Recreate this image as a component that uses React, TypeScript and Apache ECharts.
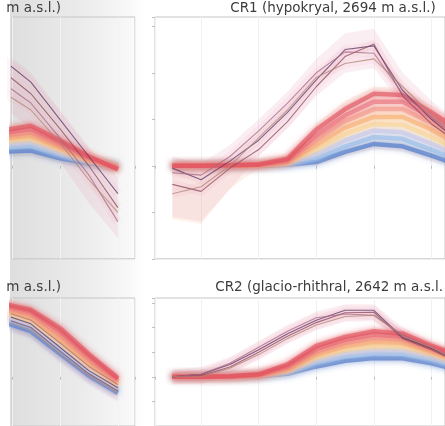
import React, { useEffect, useRef } from "react";
import * as echarts from "echarts";

// ---------- data ----------
const monthsFull = [1, 2, 3, 4, 5, 6, 7, 8, 9, 10, 11];
const monthsLate = [8, 9, 10, 11, 12];

const panelTitles = [
  "m a.s.l.)",
  "CR1 (hypokryal, 2694 m a.s.l.)",
  "m a.s.l.)",
  "CR2 (glacio-rhithral, 2642 m a.s.l.",
];

// scenario colours, blue (low) -> red (high)
const scenarioColors = ["#3d6bc5", "#8fbbe9", "#c0c4ee", "#f6d596", "#f6ae6c", "#f29483", "#ea6f7c", "#df4d5c"];
const darkColors = ["#5a3666", "#8a4a5e", "#a56a84", "#b08676"];

// top-left panel (months 8-12)
const tlScenarios = [
  [0.3, 0.33, 0.16, 0.05, 0.0],
  [0.38, 0.42, 0.22, 0.07, 0.0],
  [0.45, 0.5, 0.28, 0.09, -0.01],
  [0.52, 0.58, 0.34, 0.11, -0.02],
  [0.58, 0.65, 0.4, 0.13, -0.03],
  [0.64, 0.72, 0.45, 0.16, -0.05],
  [0.7, 0.79, 0.5, 0.18, -0.06],
  [0.76, 0.86, 0.55, 0.2, -0.08],
];
const tlDark = [
  [2.3, 1.8, 1.0, 0.2, -0.6],
  [2.05, 1.55, 0.8, 0.0, -0.9],
  [1.8, 1.35, 0.6, -0.2, -1.2],
  [1.6, 1.2, 0.5, -0.3, -1.0],
];
const tlDarkLow = [1.3, 0.8, 0.1, -0.8, -1.55];
const tlDarkHigh = [2.5, 2.0, 1.2, 0.4, -0.25];
const tlScenLow = [0.2, 0.22, 0.05, -0.05, -0.15];
const tlScenHigh = [0.9, 0.95, 0.65, 0.3, 0.05];

// top-right panel CR1 (months 1-11)
const trScenarios = [
  [0, 0, 0, 0, 0.02, 0.08, 0.3, 0.47, 0.42, 0.22, 0.0],
  [0, 0, 0, 0, 0.03, 0.15, 0.42, 0.62, 0.58, 0.35, 0.1],
  [0, 0, 0, 0.01, 0.04, 0.25, 0.55, 0.76, 0.72, 0.48, 0.2],
  [0, 0, 0, 0.01, 0.06, 0.35, 0.68, 0.9, 0.88, 0.62, 0.3],
  [0, 0, 0, 0.01, 0.08, 0.45, 0.82, 1.05, 1.05, 0.78, 0.42],
  [0, 0, 0.01, 0.02, 0.1, 0.56, 0.96, 1.22, 1.22, 0.92, 0.55],
  [0, 0, 0.01, 0.02, 0.12, 0.66, 1.08, 1.38, 1.38, 1.04, 0.65],
  [0, 0, 0.01, 0.03, 0.15, 0.78, 1.22, 1.55, 1.52, 1.15, 0.75],
];
const trDark = [
  [-0.05, -0.3, 0.1, 0.55, 1.15, 1.85, 2.5, 2.58, 1.62, 1.0, 0.5],
  [-0.4, -0.55, -0.05, 0.35, 0.95, 1.7, 2.35, 2.62, 1.5, 0.9, 0.45],
  [-0.15, -0.2, 0.2, 0.75, 1.35, 2.0, 2.45, 2.42, 1.55, 1.05, 0.55],
  [-0.6, -0.45, 0.0, 0.6, 1.2, 1.9, 2.2, 2.3, 1.7, 1.1, 0.6],
];
const trDarkLow = [-1.1, -1.2, -0.5, 0.2, 0.8, 1.5, 2.0, 2.1, 1.3, 0.7, 0.3];
const trDarkHigh = [0.2, 0.05, 0.45, 1.0, 1.6, 2.3, 2.85, 2.95, 2.0, 1.4, 0.9];
const trScenLow = [-1.15, -1.25, -0.5, -0.05, -0.05, 0.0, 0.2, 0.35, 0.3, 0.1, -0.1];
const trScenHigh = [0.05, 0.05, 0.05, 0.08, 0.25, 0.9, 1.4, 1.7, 1.68, 1.3, 0.9];

// bottom-left panel (months 8-12)
const blScenarios = [
  [2.25, 1.85, 0.95, 0.05, -0.65],
  [2.38, 1.98, 1.08, 0.16, -0.56],
  [2.5, 2.12, 1.22, 0.28, -0.46],
  [2.62, 2.27, 1.38, 0.42, -0.36],
  [2.75, 2.42, 1.55, 0.56, -0.26],
  [2.85, 2.55, 1.72, 0.7, -0.18],
  [2.92, 2.65, 1.86, 0.82, -0.1],
  [2.98, 2.72, 1.98, 0.92, -0.05],
];
const blDark = [
  [2.55, 2.15, 1.2, 0.25, -0.45],
  [2.4, 2.0, 1.05, 0.12, -0.58],
  [2.68, 2.3, 1.38, 0.42, -0.32],
  [2.3, 1.9, 0.95, 0.05, -0.65],
];
const blDarkLow = [1.95, 1.55, 0.6, -0.3, -1.0];
const blDarkHigh = [2.85, 2.5, 1.6, 0.6, -0.1];
const blScenLow = [2.1, 1.7, 0.8, -0.1, -0.8];
const blScenHigh = [3.12, 2.9, 2.14, 1.08, 0.1];

// bottom-right panel CR2 (months 1-11)
const brScenarios = [
  [0, 0, 0, 0.02, 0.12, 0.42, 0.65, 0.76, 0.75, 0.55, 0.25],
  [0, 0, 0, 0.03, 0.16, 0.55, 0.8, 0.92, 0.9, 0.68, 0.35],
  [0, 0, 0, 0.04, 0.2, 0.66, 0.95, 1.08, 1.06, 0.8, 0.45],
  [0, 0, 0.01, 0.05, 0.25, 0.78, 1.1, 1.24, 1.22, 0.92, 0.55],
  [0, 0, 0.01, 0.06, 0.3, 0.9, 1.25, 1.42, 1.38, 1.04, 0.65],
  [0, 0, 0.01, 0.07, 0.36, 1.02, 1.38, 1.58, 1.52, 1.12, 0.72],
  [0, 0, 0.01, 0.08, 0.42, 1.13, 1.5, 1.72, 1.64, 1.18, 0.78],
  [0, 0, 0.02, 0.1, 0.5, 1.25, 1.62, 1.85, 1.75, 1.25, 0.85],
];
const brDark = [
  [0, 0.1, 0.5, 1.1, 1.75, 2.3, 2.7, 2.7, 1.6, 1.15, 0.6],
  [0, 0.05, 0.4, 1.0, 1.65, 2.2, 2.6, 2.62, 1.55, 1.1, 0.55],
  [0, 0.1, 0.55, 1.2, 1.85, 2.4, 2.55, 2.5, 1.7, 1.2, 0.65],
  [0, 0.0, 0.35, 0.9, 1.55, 2.1, 2.45, 2.5, 1.65, 1.2, 0.6],
];
const brDarkLow = [-0.3, -0.3, 0.1, 0.7, 1.35, 1.9, 2.25, 2.25, 1.3, 0.85, 0.3];
const brDarkHigh = [0.3, 0.4, 0.8, 1.45, 2.1, 2.65, 2.95, 2.95, 2.0, 1.45, 0.95];
const brScenLow = [-0.1, -0.1, -0.1, -0.05, 0.05, 0.3, 0.55, 0.65, 0.63, 0.45, 0.1];
const brScenHigh = [0.1, 0.1, 0.1, 0.15, 0.6, 1.4, 1.78, 2.0, 1.9, 1.4, 1.0];

// ---------- helpers ----------
function bandSeries(gi: number, xs: number[], low: number[], high: number[], color: string) {
  return {
    type: "custom",
    xAxisIndex: gi,
    yAxisIndex: gi,
    silent: true,
    z: 1,
    data: [[xs[0], high[0]]],
    renderItem: (params: any, api: any) => {
      const top = xs.map((x, i) => api.coord([x, high[i]]));
      const bot = xs.map((x, i) => api.coord([x, low[i]])).reverse();
      const cs = params.coordSys;
      return {
        type: "polygon",
        shape: { points: top.concat(bot) },
        style: { fill: color },
        clipPath: { type: "rect", shape: { x: cs.x, y: cs.y, width: cs.width, height: cs.height } },
      };
    },
  };
}

function panelSeries(
  gi: number,
  xs: number[],
  scen: number[][],
  dark: number[][],
  darkLow: number[],
  darkHigh: number[],
  scenLow: number[],
  scenHigh: number[]
) {
  const pts = (arr: number[]) => arr.map((v, i) => [xs[i], v]);
  const out: any[] = [];
  out.push(bandSeries(gi, xs, scenLow, scenHigh, "rgba(246,176,140,0.17)"));
  out.push(bandSeries(gi, xs, darkLow, darkHigh, "rgba(226,140,170,0.15)"));
  dark.forEach((arr, k) => {
    out.push({
      type: "line", xAxisIndex: gi, yAxisIndex: gi, data: pts(arr), symbol: "none", silent: true, z: 2,
      lineStyle: { color: "#e79aae", width: 9, opacity: 0.1 },
    });
  });
  scen.forEach((arr, k) => {
    out.push({
      type: "line", xAxisIndex: gi, yAxisIndex: gi, data: pts(arr), symbol: "none", silent: true, z: 3,
      lineStyle: { color: scenarioColors[k], width: 4.5, opacity: 0.6, shadowBlur: 6, shadowColor: scenarioColors[k] },
    });
  });
  dark.forEach((arr, k) => {
    out.push({
      type: "line", xAxisIndex: gi, yAxisIndex: gi, data: pts(arr), symbol: "none", silent: true, z: 4,
      lineStyle: { color: darkColors[k], width: 1.1, opacity: 0.75 },
    });
  });
  return out;
}

const GRID_H = 241.8;

export default function App() {
  const ref = useRef<HTMLDivElement>(null);
  useEffect(() => {
    if (!ref.current) return;
    const chart = echarts.init(ref.current, undefined, { renderer: "svg" });
    const grids = [
      { left: 12, top: 17, width: 123, height: GRID_H },
      { left: 155, top: 17, width: 292, height: GRID_H },
      { left: 12, top: 298, width: 123, height: GRID_H },
      { left: 155, top: 298, width: 292, height: GRID_H },
    ].map((g) => ({ ...g, show: true, borderColor: "#c6c6c6", borderWidth: 1, backgroundColor: "transparent" }));
    const isLeft = [true, false, true, false];
    const xAxis = isLeft.map((l, i) => ({
      type: "value", gridIndex: i, min: l ? 8.35 : 0.4, max: l ? 12.59 : 10.47, minInterval: 2, maxInterval: 2,
      axisLine: { show: false }, axisLabel: { show: false },
      axisTick: { show: true, length: 3, lineStyle: { color: "#c0c0c0" } },
      splitLine: { show: true, lineStyle: { color: "#f1f1f1", width: 1 } },
    }));
    const yAxis = isLeft.map((l, i) => ({
      type: "value", gridIndex: i, min: -2, max: 3.2, interval: 1,
      axisLine: { show: false }, axisLabel: { show: false },
      axisTick: { show: !l, length: 3, lineStyle: { color: "#c0c0c0" } },
      splitLine: { show: false },
    }));
    const series = [
      ...panelSeries(0, monthsLate, tlScenarios, tlDark, tlDarkLow, tlDarkHigh, tlScenLow, tlScenHigh),
      ...panelSeries(1, monthsFull, trScenarios, trDark, trDarkLow, trDarkHigh, trScenLow, trScenHigh),
      ...panelSeries(2, monthsLate, blScenarios, blDark, blDarkLow, blDarkHigh, blScenLow, blScenHigh),
      ...panelSeries(3, monthsFull, brScenarios, brDark, brDarkLow, brDarkHigh, brScenLow, brScenHigh),
    ];
    const font = '13.5px "DejaVu Sans"';
    const titleText = (text: string, x: number, y: number, align: string) => ({
      type: "text", x, y, z: 10,
      style: { text, font, fill: "#3c3c3c", align, textAlign: align, verticalAlign: "middle", textVerticalAlign: "middle" },
    });
    chart.setOption({
      animation: false,
      backgroundColor: "#ffffff",
      grid: grids,
      xAxis,
      yAxis,
      series,
      graphic: [
        {
          type: "rect", z: -1, shape: { x: 10, y: 0, width: 140, height: 426 },
          style: {
            fill: new echarts.graphic.LinearGradient(0, 0, 1, 0, [
              { offset: 0, color: "#dedede" },
              { offset: 0.5, color: "#ebebeb" },
              { offset: 0.85, color: "#f8f8f8" },
              { offset: 1, color: "rgba(255,255,255,0)" },
            ]),
          },
        },
        titleText(panelTitles[0], 61, 7, "right"),
        titleText(panelTitles[1], 333, 7, "center"),
        titleText(panelTitles[2], 61, 286, "right"),
        titleText(panelTitles[3], 443, 286, "right"),
      ],
    });
    return () => chart.dispose();
  }, []);
  return (
    <div
      ref={ref}
      style={{ position: "fixed", left: 0, top: 0, width: 445, height: 426, overflow: "hidden", filter: "blur(0.75px)" }}
    />
  );
}
